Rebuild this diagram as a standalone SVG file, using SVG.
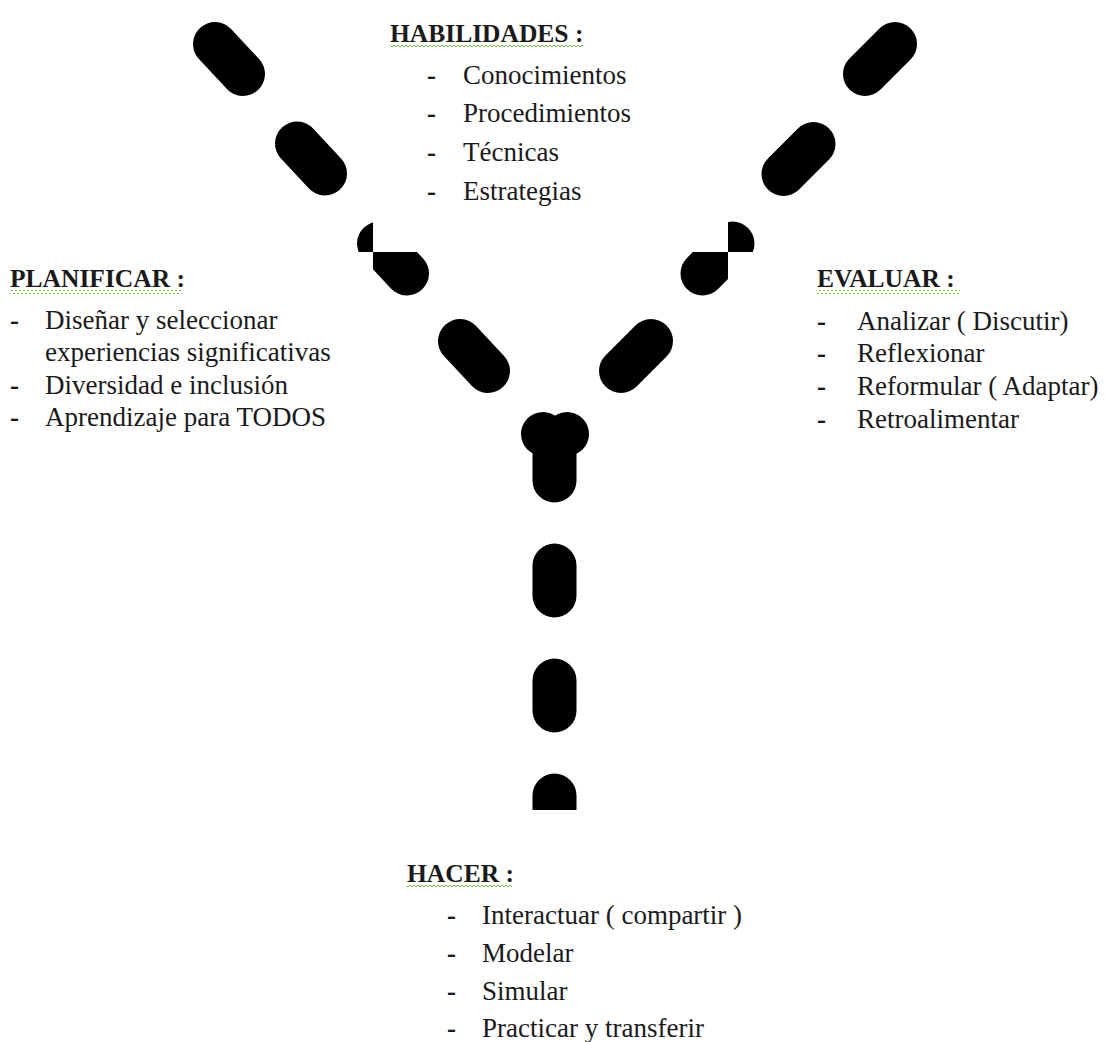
<svg xmlns="http://www.w3.org/2000/svg" width="1107" height="1042" viewBox="0 0 1107 1042">
<defs>
<style>
.cap{stroke:#000;stroke-width:44;stroke-linecap:round;fill:none}
.dot{fill:#000}
.t{font-family:"Liberation Serif","Times New Roman",serif;font-size:27px;fill:#1a1a1a}
.h{font-family:"Liberation Serif","Times New Roman",serif;font-size:25.5px;font-weight:bold;fill:#1a1a1a}
.d{font-weight:bold}
.wv{fill:url(#wave)}
</style>
<pattern id="wave" x="0" y="0" width="4" height="4" patternUnits="userSpaceOnUse">
<path d="M0,3 L2,1 L4,3" fill="none" stroke="#6abf40" stroke-width="1"/>
</pattern>
<clipPath id="clipL"><rect x="0" y="0" width="373" height="252"/><rect x="373" y="252" width="200" height="200"/></clipPath>
<clipPath id="clipR"><rect x="728" y="0" width="300" height="252"/><rect x="500" y="252" width="228" height="200"/></clipPath>
<clipPath id="clipB"><rect x="500" y="700" width="120" height="110"/></clipPath>
</defs>
<rect width="1107" height="1042" fill="#fff"/>
<g id="connectors">
<line class="cap" x1="215" y1="44" x2="243" y2="74"/>
<line class="cap" x1="297" y1="143.5" x2="325" y2="173.5"/>
<line class="cap" clip-path="url(#clipL)" x1="379" y1="243.5" x2="407" y2="273.5"/>
<line class="cap" x1="460" y1="341" x2="488" y2="371"/>
<line class="cap" x1="895" y1="44" x2="865" y2="74"/>
<line class="cap" x1="813.5" y1="144" x2="783.5" y2="174"/>
<line class="cap" clip-path="url(#clipR)" x1="732.5" y1="243.5" x2="702.5" y2="273.5"/>
<line class="cap" x1="651" y1="341" x2="621" y2="371"/>
<circle class="dot" cx="543" cy="434" r="22"/>
<circle class="dot" cx="567" cy="434" r="22"/>
<line class="cap" x1="554.5" y1="450.5" x2="554.5" y2="480.5"/>
<line class="cap" x1="554.5" y1="565.5" x2="554.5" y2="595.5"/>
<line class="cap" x1="554.5" y1="680.5" x2="554.5" y2="710.5"/>
<line class="cap" clip-path="url(#clipB)" x1="554.5" y1="795.5" x2="554.5" y2="830"/>
</g>
<g id="habilidades">
<text class="h" x="390" y="42">HABILIDADES :</text>
<rect class="wv" x="390" y="45" width="193" height="4"/>
<text class="t"><tspan class="d" x="427" y="84">-</tspan><tspan x="463" y="84">Conocimientos</tspan></text>
<text class="t"><tspan class="d" x="427" y="122">-</tspan><tspan x="463" y="122">Procedimientos</tspan></text>
<text class="t"><tspan class="d" x="427" y="161">-</tspan><tspan x="463" y="161">Técnicas</tspan></text>
<text class="t"><tspan class="d" x="427" y="200">-</tspan><tspan x="463" y="200">Estrategias</tspan></text>
</g>
<g id="planificar">
<text class="h" x="10" y="287">PLANIFICAR :</text>
<rect class="wv" x="10" y="290" width="172" height="4"/>
<text class="t"><tspan class="d" x="10" y="329">-</tspan><tspan x="45" y="329">Diseñar y seleccionar</tspan></text>
<text class="t" x="45" y="361">experiencias significativas</text>
<text class="t"><tspan class="d" x="10" y="394">-</tspan><tspan x="45" y="394">Diversidad e inclusión</tspan></text>
<text class="t"><tspan class="d" x="10" y="426">-</tspan><tspan x="45" y="426">Aprendizaje para TODOS</tspan></text>
</g>
<g id="evaluar">
<text class="h" x="817" y="287">EVALUAR :</text>
<rect class="wv" x="817" y="290" width="143" height="4"/>
<text class="t"><tspan class="d" x="817" y="330">-</tspan><tspan x="857" y="330">Analizar ( Discutir)</tspan></text>
<text class="t"><tspan class="d" x="817" y="362">-</tspan><tspan x="857" y="362">Reflexionar</tspan></text>
<text class="t"><tspan class="d" x="817" y="395">-</tspan><tspan x="857" y="395">Reformular ( Adaptar)</tspan></text>
<text class="t"><tspan class="d" x="817" y="428">-</tspan><tspan x="857" y="428">Retroalimentar</tspan></text>
</g>
<g id="hacer">
<text class="h" x="407" y="882">HACER :</text>
<rect class="wv" x="407" y="885" width="105" height="4"/>
<text class="t"><tspan class="d" x="447" y="924">-</tspan><tspan x="482" y="924">Interactuar ( compartir )</tspan></text>
<text class="t"><tspan class="d" x="447" y="962">-</tspan><tspan x="482" y="962">Modelar</tspan></text>
<text class="t"><tspan class="d" x="447" y="1000">-</tspan><tspan x="482" y="1000">Simular</tspan></text>
<text class="t"><tspan class="d" x="447" y="1037">-</tspan><tspan x="482" y="1037">Practicar y transferir</tspan></text>
</g>
</svg>
